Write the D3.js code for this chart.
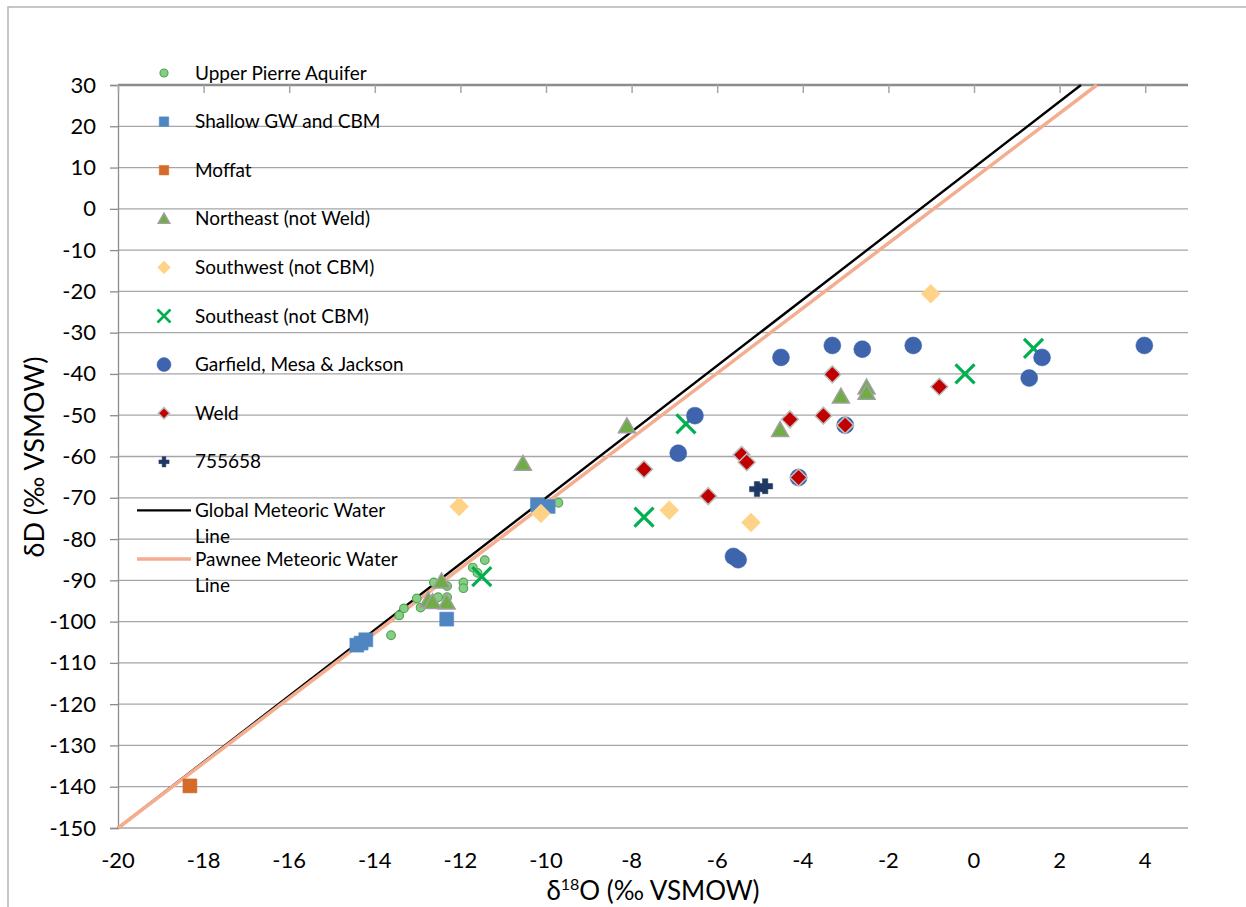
<!DOCTYPE html>
<html>
<head>
<meta charset="utf-8">
<script src="https://cdn.jsdelivr.net/npm/d3@7"></script>
<style>
  body { margin: 0; background: #fff; }
  text { font-family: Lato, "Open Sans", sans-serif; fill: #000; }
</style>
</head>
<body>
<svg id="chart" width="1246" height="907"></svg>
<script>
// dane: [d18O, dD]
const upperPierre = [[-9.71, -71.2], [-11.43, -85.1], [-11.71, -86.9], [-11.93, -90.5], [-11.93, -91.9],
  [-12.31, -94.1], [-12.52, -94.1], [-12.62, -90.5], [-12.31, -91.4], [-13.02, -94.4], [-13.32, -96.8],
  [-13.43, -98.5], [-12.93, -96.6], [-13.62, -103.3], [-11.6, -88.2]];
const shallowGW = [[-14.42, -105.7], [-14.32, -105.2], [-14.21, -104.4], [-12.32, -99.4], [-9.95, -72.1], [-10.2, -71.7]];
const moffat = [[-18.32, -139.8]];
const northeast = [[-10.54, -61.8], [-8.11, -52.7], [-4.53, -53.6], [-3.11, -45.5], [-2.51, -43.3], [-2.51, -44.6],
  [-12.44, -90.3], [-12.75, -94.9], [-12.32, -95.4], [-12.65, -95.3]];
const southwest = [[-12.03, -72.1], [-10.12, -73.8], [-7.12, -73.0], [-5.21, -76.0], [-1.01, -20.6]];
const southeast = [[-11.5, -89.1], [-6.73, -52.1], [-7.71, -74.7], [-0.21, -40.0], [1.39, -33.8]];
const garfield = [[-6.52, -50.1], [-6.91, -59.2], [-4.51, -36.0], [-3.31, -33.1], [-2.61, -34.0], [-5.62, -84.2],
  [-5.51, -85.0], [-3.01, -52.4], [-4.1, -65.1], [-1.42, -33.1], [1.59, -36.0], [1.29, -41.0], [3.98, -33.1]];
const weld = [[-3.31, -40.1], [-4.3, -51.0], [-3.52, -50.1], [-3.01, -52.4], [-5.43, -59.6], [-5.31, -61.4],
  [-7.71, -63.1], [-6.21, -69.6], [-4.1, -65.1], [-0.81, -43.1]];
const well755658 = [[-5.07, -67.9], [-4.88, -67.2]];

// linie meteoryczne (punkty końcowe)
const globalLine = [[-20, -150], [2.5, 30]];
const pawneeLine = [[-20, -150], [2.87, 30]];

const xTicks = [-20, -18, -16, -14, -12, -10, -8, -6, -4, -2, 0, 2, 4];
const yTicks = d3.range(-150, 31, 10);

const seriesNames = ["Upper Pierre Aquifer", "Shallow GW and CBM", "Moffat", "Northeast (not Weld)",
  "Southwest (not CBM)", "Southeast (not CBM)", "Garfield, Mesa & Jackson", "Weld", "755658"];
const lineNames = [["Global Meteoric Water", "Line"], ["Pawnee Meteoric Water", "Line"]];

const svg = d3.select("#chart");
const x = d3.scaleLinear().domain([-20, 5]).range([118, 1188]);
const y = d3.scaleLinear().domain([-150, 30]).range([828, 85]);

// style markerów dla każdej serii
const markers = [
  { data: upperPierre, kind: "circle", r: 4.3, fill: "#85cf85", stroke: "#56a656", sw: 1.2 },
  { data: shallowGW, kind: "square", s: 14, fill: "#4f86c1", stroke: "#4f86c1", sw: 0.5 },
  { data: moffat, kind: "square", s: 14, fill: "#d56a2a", stroke: "#d56a2a", sw: 0.5 },
  { data: northeast, kind: "triangle", s: 17, fill: "#70ad47", stroke: "#a0a0a0", sw: 1.5 },
  { data: southwest, kind: "diamond", s: 19, fill: "#ffd387", stroke: "#ffd387", sw: 0.5 },
  { data: southeast, kind: "x", s: 19, fill: "none", stroke: "#00b050", sw: 3.2 },
  { data: garfield, kind: "circle", r: 8.5, fill: "#3d64ad", stroke: "#3d64ad", sw: 0.5 },
  { data: weld, kind: "diamond", s: 17, fill: "#c00000", stroke: "#bfbfbf", sw: 1.5 },
  { data: well755658, kind: "plus", s: 15, fill: "#1f3864", stroke: "#1f3864", sw: 0.5 }
];

function markerPath(kind, s) {
  const h = s / 2;
  if (kind === "square") return `M${-h},${-h}H${h}V${h}H${-h}Z`;
  if (kind === "diamond") return `M0,${-h}L${h},0L0,${h}L${-h},0Z`;
  if (kind === "triangle") return `M0,${-h}L${h},${h * 0.75}L${-h},${h * 0.75}Z`;
  if (kind === "x") return `M${-h},${-h}L${h},${h}M${-h},${h}L${h},${-h}`;
  if (kind === "plus") {
    const t = s * 0.18;
    return `M${-t},${-h}H${t}V${-t}H${h}V${t}H${t}V${h}H${-t}V${t}H${-h}V${-t}H${-t}Z`;
  }
  return "";
}

function drawMarker(g, m, px, py) {
  if (m.kind === "circle") {
    g.append("circle").attr("cx", px).attr("cy", py).attr("r", m.r)
      .attr("fill", m.fill).attr("stroke", m.stroke).attr("stroke-width", m.sw);
  } else {
    g.append("path").attr("d", markerPath(m.kind, m.s))
      .attr("transform", `translate(${px},${py})`)
      .attr("fill", m.fill).attr("stroke", m.stroke).attr("stroke-width", m.sw);
  }
}

// ramka wykresu
svg.append("path").attr("d", "M8,907V7H1246").attr("fill", "none")
  .attr("stroke", "#b4b4b4").attr("stroke-width", 1.5);

// siatka pozioma
svg.append("g").selectAll("line").data(yTicks.filter(v => v < 30)).join("line")
  .attr("x1", x(-20)).attr("x2", x(5)).attr("y1", d => y(d)).attr("y2", d => y(d))
  .attr("stroke", "#a6a6a6").attr("stroke-width", 1.3);

// oś Y
const yAxis = d3.axisLeft(y).tickValues(yTicks).tickSize(8).tickPadding(14).tickFormat(d => String(d));
const gy = svg.append("g").attr("transform", `translate(${x(-20)},0)`).call(yAxis);
gy.select(".domain").attr("stroke", "#8c8c8c").attr("stroke-width", 1.3);
gy.selectAll(".tick line").attr("stroke", "#8c8c8c").attr("stroke-width", 1.3);
gy.selectAll(".tick text").attr("font-size", 22).attr("font-family", "Lato");

// oś X - linia u góry (przecięcie przy 30), etykiety na dole
const xAxis = d3.axisBottom(x).tickValues(xTicks).tickSize(8).tickFormat("");
const gx = svg.append("g").attr("transform", `translate(0,${y(30)})`).call(xAxis);
gx.select(".domain").attr("d", `M${x(-20)},0H${x(5)}`).attr("stroke", "#8c8c8c").attr("stroke-width", 2.5);
gx.selectAll(".tick line").attr("stroke", "#a6a6a6").attr("stroke-width", 1.5);

svg.append("g").selectAll("text").data(xTicks).join("text")
  .attr("x", d => x(d)).attr("y", 868).attr("text-anchor", "middle")
  .attr("font-size", 22).text(d => String(d));

// linie meteoryczne
const lineGen = d3.line().x(d => x(d[0])).y(d => y(d[1]));
svg.append("path").datum(globalLine).attr("d", lineGen)
  .attr("fill", "none").attr("stroke", "#000").attr("stroke-width", 2.4);
svg.append("path").datum(pawneeLine).attr("d", lineGen)
  .attr("fill", "none").attr("stroke", "#f4ad8f").attr("stroke-width", 3.5);

// punkty
const pts = svg.append("g");
markers.forEach(m => {
  m.data.forEach(d => drawMarker(pts, m, x(d[0]), y(d[1])));
});

// legenda
const leg = svg.append("g");
const legY0 = 73, legStep = 48.6;
seriesNames.forEach((name, i) => {
  const m = markers[i];
  const small = Object.assign({}, m, m.kind === "circle" ? { r: i === 0 ? 4 : 7 } : { s: m.s * 0.68 });
  if (m.kind === "x") small.sw = 2.6;
  drawMarker(leg, small, 164, legY0 + i * legStep);
  leg.append("text").attr("x", 195).attr("y", legY0 + i * legStep + 6.5)
    .attr("font-size", 19).text(name);
});
const lineStyles = [{ stroke: "#000", sw: 2.4 }, { stroke: "#f4ad8f", sw: 3.5 }];
lineNames.forEach((lines, j) => {
  const ly = legY0 + (seriesNames.length + j) * legStep;
  leg.append("line").attr("x1", 137).attr("x2", 191).attr("y1", ly).attr("y2", ly)
    .attr("stroke", lineStyles[j].stroke).attr("stroke-width", lineStyles[j].sw);
  lines.forEach((t, k) => {
    leg.append("text").attr("x", 195).attr("y", ly + 6.5 + k * 26.5)
      .attr("font-size", 19).text(t);
  });
});

// tytuły osi
svg.append("text").attr("transform", "translate(44,457) rotate(-90)")
  .attr("text-anchor", "middle").attr("font-size", 27).text("δD (‰ VSMOW)");
const xt = svg.append("text").attr("x", 653).attr("y", 900).attr("text-anchor", "middle").attr("font-size", 26);
xt.append("tspan").text("δ");
xt.append("tspan").attr("font-size", 16).attr("dy", -10).text("18");
xt.append("tspan").attr("dy", 10).text("O (‰ VSMOW)");
</script>
</body>
</html>
